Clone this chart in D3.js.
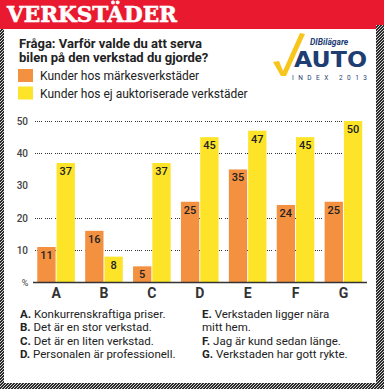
<!DOCTYPE html>
<html>
<head>
<meta charset="utf-8">
<script src="https://cdn.jsdelivr.net/npm/d3@7"></script>
<style>
  html, body { margin: 0; padding: 0; background: #fff; }
  svg { display: block; }
</style>
</head>
<body>
<div id="chart"></div>
<script>
// data
var categories = ['A', 'B', 'C', 'D', 'E', 'F', 'G'];
var brandValues = [11, 16, 5, 25, 35, 24, 25];
var independentValues = [37, 8, 37, 45, 47, 45, 50];
var yTicks = [10, 20, 30, 40, 50];
var gridTicks = [10, 20, 40, 50];
var seriesNames = ['Kunder hos märkesverkstäder', 'Kunder hos ej auktoriserade verkstäder'];
var questionLines = ['Fråga: Varför valde du att serva', 'bilen på den verkstad du gjorde?'];
var notesLeft = [
    ['A.', 'Konkurrenskraftiga priser.'],
    ['B.', 'Det är en stor verkstad.'],
    ['C.', 'Det är en liten verkstad.'],
    ['D.', 'Personalen är professionell.']
];
var notesRight = [
    ['E.', 'Verkstaden ligger nära'],
    ['', 'mitt hem.'],
    ['F.', 'Jag är kund sedan länge.'],
    ['G.', 'Verkstaden har gott rykte.']
];

var width = 386, height = 391;
var colors = ['#f39141', '#fde428'];
var textFont = 'Roboto, "Open Sans", sans-serif';

var svg = d3.select('#chart')
    .append('svg')
    .attr('width', width)
    .attr('height', height);

// hatched frame pattern
var defs = svg.append('defs');
var pat = defs.append('pattern')
    .attr('id', 'hatch')
    .attr('patternUnits', 'userSpaceOnUse')
    .attr('width', 3)
    .attr('height', 3);
pat.append('rect').attr('width', 3).attr('height', 3).attr('fill', '#2b2b2b');
pat.append('path')
    .attr('d', 'M0,3 L3,0')
    .attr('stroke', '#e8e8e8')
    .attr('stroke-width', 0.9);

// header banner
svg.append('rect')
    .attr('x', 0).attr('y', 0)
    .attr('width', 384).attr('height', 29)
    .attr('fill', '#e91a2f');

svg.append('text')
    .attr('x', 7).attr('y', 22)
    .attr('textLength', 170)
    .attr('lengthAdjust', 'spacingAndGlyphs')
    .attr('font-family', '"DejaVu Serif", serif')
    .attr('font-weight', 'bold')
    .attr('font-size', 22)
    .attr('fill', '#fff')
    .attr('stroke', '#fff')
    .attr('stroke-width', 0.6)
    .text('VERKSTÄDER');

// frame
svg.append('rect').attr('x', 0).attr('y', 29).attr('width', 4).attr('height', 360).attr('fill', 'url(#hatch)');
svg.append('rect').attr('x', 376).attr('y', 25).attr('width', 8).attr('height', 364).attr('fill', 'url(#hatch)');
svg.append('rect').attr('x', 0).attr('y', 383).attr('width', 384).attr('height', 6).attr('fill', 'url(#hatch)');

// question
svg.append('g')
    .selectAll('text')
    .data(questionLines)
    .join('text')
    .attr('x', 19)
    .attr('y', function(d, i) { return 48 + i * 13.5; })
    .attr('font-family', textFont)
    .attr('font-weight', 'bold')
    .attr('font-size', 13)
    .attr('fill', '#222')
    .text(function(d) { return d; });

// legend
var legend = svg.append('g')
    .selectAll('g')
    .data(seriesNames)
    .join('g')
    .attr('transform', function(d, i) { return 'translate(18,' + (69 + i * 17.5) + ')'; });

legend.append('rect')
    .attr('width', 15).attr('height', 13)
    .attr('fill', function(d, i) { return colors[i]; });

legend.append('text')
    .attr('x', 22).attr('y', 11)
    .attr('font-family', textFont)
    .attr('font-size', 12)
    .attr('fill', '#222')
    .text(function(d) { return d; });

// logo
var logo = svg.append('g');
logo.append('path')
    .attr('d', 'M273,62 L279,61 L283,71 L300,33 L305,34 L286,76 L281,76 Z')
    .attr('fill', '#f7c51c');
logo.append('text')
    .attr('x', 310).attr('y', 44.5)
    .attr('font-family', textFont)
    .attr('font-style', 'italic')
    .attr('font-weight', 'bold')
    .attr('font-size', 8.5)
    .attr('fill', '#1e3d73')
    .text('DIBilägare');
logo.append('text')
    .attr('x', 294).attr('y', 67)
    .attr('textLength', 73)
    .attr('lengthAdjust', 'spacingAndGlyphs')
    .attr('font-family', '"DejaVu Sans", sans-serif')
    .attr('font-weight', 'bold')
    .attr('font-size', 21)
    .attr('fill', '#1e3d73')
    .text('AUTO');
logo.append('text')
    .attr('x', 292).attr('y', 79.5)
    .attr('textLength', 75)
    .attr('font-family', textFont)
    .attr('font-size', 6.5)
    .attr('fill', '#1e3d73')
    .text('INDEX 2013');

// scales
var y = d3.scaleLinear()
    .domain([0, 50])
    .range([282.5, 121]);

var x0 = d3.scaleBand()
    .domain(categories)
    .range([32.5, 367])
    .paddingInner(0.215)
    .paddingOuter(0.1);

var x1 = d3.scaleBand()
    .domain([0, 1])
    .range([0, x0.bandwidth()])
    .paddingInner(0.05);

// gridlines (the 30 line is not drawn in the original)
svg.append('g')
    .selectAll('line')
    .data(gridTicks)
    .join('line')
    .attr('x1', 35).attr('x2', 362)
    .attr('y1', function(d) { return Math.round(y(d)) + 0.5; })
    .attr('y2', function(d) { return Math.round(y(d)) + 0.5; })
    .attr('stroke', '#333')
    .attr('stroke-width', 1)
    .attr('stroke-dasharray', '1,1,1,1,1,1,1,3');

// y axis labels
var yAxis = svg.append('g')
    .attr('transform', 'translate(28,0)')
    .call(d3.axisLeft(y).tickValues(yTicks).tickSize(0).tickPadding(0));
yAxis.select('.domain').remove();
yAxis.selectAll('text')
    .attr('font-family', textFont)
    .attr('font-weight', 500)
    .attr('font-size', 10)
    .attr('fill', '#444');

svg.append('text')
    .attr('x', 25).attr('y', 286)
    .attr('text-anchor', 'middle')
    .attr('font-family', textFont)
    .attr('font-size', 9)
    .attr('fill', '#444')
    .text('%');

// bars
var groups = svg.append('g')
    .selectAll('g')
    .data(categories)
    .join('g')
    .attr('transform', function(d) { return 'translate(' + x0(d) + ',0)'; });

var bars = groups.selectAll('g')
    .data(function(d, i) { return [brandValues[i], independentValues[i]]; })
    .join('g');

bars.append('rect')
    .attr('x', function(d, i) { return x1(i); })
    .attr('y', function(d) { return y(d); })
    .attr('width', x1.bandwidth())
    .attr('height', function(d) { return y(0) - y(d); })
    .attr('fill', function(d, i) { return colors[i]; });

bars.append('text')
    .attr('x', function(d, i) { return x1(i) + x1.bandwidth() / 2; })
    .attr('y', function(d) { return y(d) + 12; })
    .attr('text-anchor', 'middle')
    .attr('font-family', textFont)
    .attr('font-weight', 500)
    .attr('font-size', 11)
    .attr('fill', '#222')
    .text(function(d) { return d; });

// baseline
svg.append('line')
    .attr('x1', 33).attr('x2', 367)
    .attr('y1', y(0)).attr('y2', y(0))
    .attr('stroke', '#333')
    .attr('stroke-width', 1.5);

// category labels
var xAxis = svg.append('g')
    .attr('transform', 'translate(0,' + y(0) + ')')
    .call(d3.axisBottom(x0).tickSize(0).tickPadding(6));
xAxis.select('.domain').remove();
xAxis.selectAll('text')
    .attr('font-family', textFont)
    .attr('font-weight', 'bold')
    .attr('font-size', 14)
    .attr('fill', '#333');

// explanation notes
function drawNotes(rows, xPos) {
    var t = svg.append('g')
        .selectAll('text')
        .data(rows)
        .join('text')
        .attr('x', xPos)
        .attr('y', function(d, i) { return 318 + i * 13.3; })
        .attr('font-family', textFont)
        .attr('font-size', 11.5)
        .attr('fill', '#222');
    t.append('tspan')
        .attr('font-weight', 'bold')
        .text(function(d) { return d[0]; });
    t.append('tspan')
        .text(function(d) { return (d[0] ? ' ' : '') + d[1]; });
}
drawNotes(notesLeft, 20);
drawNotes(notesRight, 202);
</script>
</body>
</html>
